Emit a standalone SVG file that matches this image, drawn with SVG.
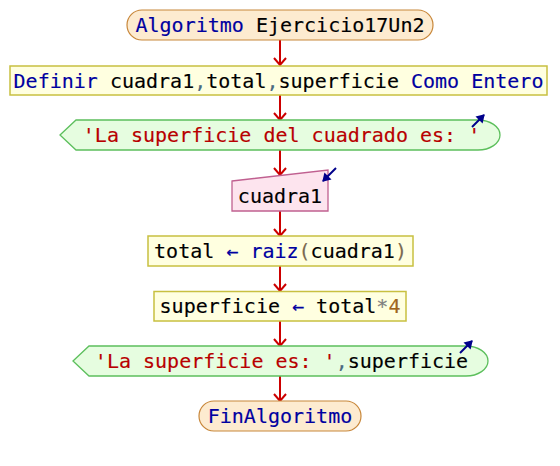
<svg xmlns="http://www.w3.org/2000/svg" width="560" height="466" viewBox="0 0 560 466">
  <defs>
    <style>
      text { font-family: "DejaVu Sans Mono", "Liberation Mono", monospace; font-size: 20px; fill: #000000; stroke: #000000; stroke-width: 0.15px; }
      .kw { fill: #0000a0; stroke: #0000a0; }
      .str { fill: #b80000; stroke: #b80000; }
      .pun { fill: #4a6a80; stroke: #4a6a80; }
      .par { fill: #7a6a50; stroke: #7a6a50; }
      .op { fill: #808080; stroke: #808080; }
      .num { fill: #a0661e; stroke: #a0661e; }
      .term { fill: #fdebd0; stroke: #c8873a; stroke-width: 1.2; }
      .proc { fill: #ffffe0; stroke: #c8c040; stroke-width: 1.5; }
      .out { fill: #e6fde0; stroke: #5cbf5c; stroke-width: 1.3; }
      .inp { fill: #fde4ee; stroke: #c06090; stroke-width: 1.3; }
      .flow { stroke: #cc0000; stroke-width: 2; fill: none; }
      .io { stroke: #00008b; stroke-width: 2; fill: none; }
    </style>
    <!-- open chevron head, drawn pointing along +x -->
    <marker id="arrow" viewBox="0 0 10 14" refX="8" refY="7" markerWidth="10" markerHeight="14" markerUnits="userSpaceOnUse" orient="auto">
      <path d="M1,1 L8,7 L1,13" fill="none" stroke="#cc0000" stroke-width="2"/>
    </marker>
    <marker id="ioarrow" viewBox="0 0 10 10" refX="8" refY="5" markerWidth="10" markerHeight="10" markerUnits="userSpaceOnUse" orient="auto">
      <path d="M1,0 L9,5 L1,10 Z" fill="#00008b"/>
    </marker>
  </defs>

  <!-- connectors -->
  <g id="connectors">
    <line class="flow" x1="280" y1="40" x2="280" y2="65" marker-end="url(#arrow)"/>
    <line class="flow" x1="280" y1="95" x2="280" y2="120" marker-end="url(#arrow)"/>
    <line class="flow" x1="280" y1="150" x2="280" y2="175" marker-end="url(#arrow)"/>
    <line class="flow" x1="280" y1="211" x2="280" y2="236" marker-end="url(#arrow)"/>
    <line class="flow" x1="280" y1="266" x2="280" y2="291" marker-end="url(#arrow)"/>
    <line class="flow" x1="280" y1="321" x2="280" y2="346" marker-end="url(#arrow)"/>
    <line class="flow" x1="280" y1="376" x2="280" y2="401" marker-end="url(#arrow)"/>
  </g>

  <!-- start -->
  <g id="start">
    <rect class="term" x="127" y="10" width="306" height="30" rx="15" ry="15"/>
    <text x="280" y="32" text-anchor="middle"><tspan class="kw">Algoritmo</tspan> Ejercicio17Un2</text>
  </g>

  <!-- variable declaration -->
  <g id="definir">
    <rect class="proc" x="10" y="66" width="537" height="29"/>
    <text x="278.5" y="88" text-anchor="middle"><tspan class="kw">Definir</tspan> cuadra1<tspan class="pun">,</tspan>total<tspan class="pun">,</tspan>superficie <tspan class="kw">Como Entero</tspan></text>
  </g>

  <!-- output: label -->
  <g id="escribir1">
    <path class="out" d="M60,135 L76,120 L478,120 A22,15 0 0 1 478,150 L76,150 Z"/>
    <text x="281.5" y="142" text-anchor="middle" class="str">'La superficie del cuadrado es: '</text>
    <line class="io" x1="472" y1="127" x2="484" y2="115" marker-end="url(#ioarrow)"/>
  </g>

  <!-- input: cuadra1 -->
  <g id="leer">
    <path class="inp" d="M232,181 L328,170 L328,211 L232,211 Z"/>
    <text x="280" y="203" text-anchor="middle">cuadra1</text>
    <line class="io" x1="336" y1="168" x2="323" y2="181" marker-end="url(#ioarrow)"/>
  </g>

  <!-- assignment: total -->
  <g id="asignar1">
    <rect class="proc" x="148" y="236" width="265" height="30"/>
    <text x="280.5" y="258" text-anchor="middle">total <tspan class="kw">←</tspan> <tspan class="kw">raiz</tspan><tspan class="par">(</tspan>cuadra1<tspan class="par">)</tspan></text>
  </g>

  <!-- assignment: superficie -->
  <g id="asignar2">
    <rect class="proc" x="154" y="291.5" width="252" height="29.5"/>
    <text x="280" y="313" text-anchor="middle">superficie <tspan class="kw">←</tspan> total<tspan class="op">*</tspan><tspan class="num">4</tspan></text>
  </g>

  <!-- output: result -->
  <g id="escribir2">
    <path class="out" d="M73,361 L89,346 L466,346 A22,15 0 0 1 466,376 L89,376 Z"/>
    <text x="281.5" y="368" text-anchor="middle"><tspan class="str">'La superficie es: '</tspan><tspan class="pun">,</tspan>superficie</text>
    <line class="io" x1="460" y1="353" x2="472" y2="341" marker-end="url(#ioarrow)"/>
  </g>

  <!-- end -->
  <g id="fin">
    <rect class="term" x="199" y="401" width="162" height="30" rx="15" ry="15"/>
    <text x="280" y="423" text-anchor="middle" class="kw">FinAlgoritmo</text>
  </g>
</svg>
